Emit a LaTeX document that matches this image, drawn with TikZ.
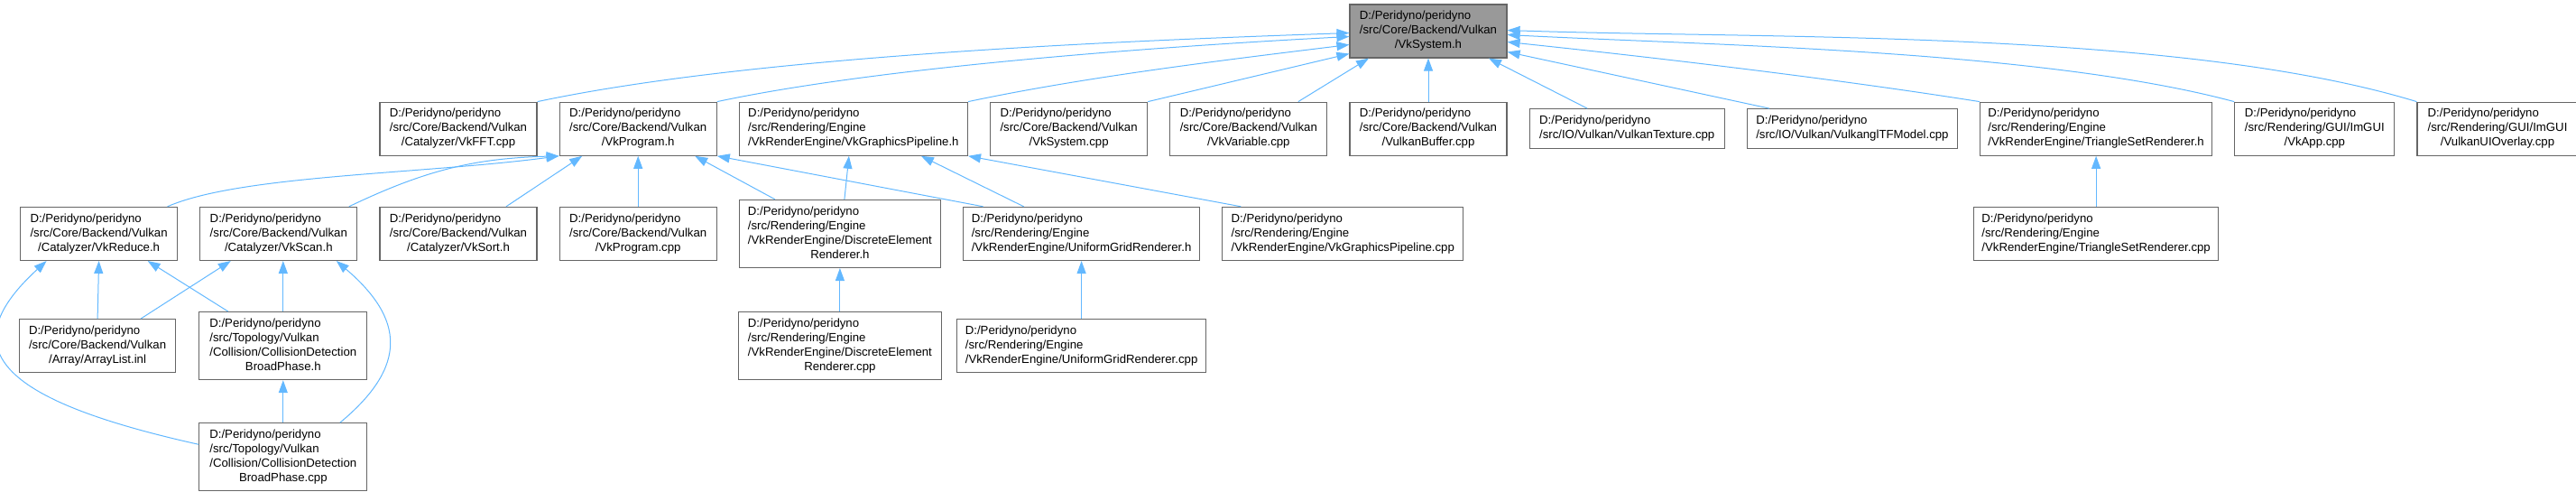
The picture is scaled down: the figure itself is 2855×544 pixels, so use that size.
\documentclass[tikz,border=0pt]{standalone}
\usepackage{fontspec}
\setmainfont{Liberation Sans}
\usepackage{xcolor}
\usepackage{tikz}
\usetikzlibrary{arrows.meta, positioning}
\definecolor{edgeblue}{HTML}{63B8FF}
\definecolor{boxgray}{HTML}{666666}
\definecolor{rootgray}{HTML}{999999}
\tikzstyle{filebox} = [rectangle, draw=boxgray, fill=white, line width=1.2pt, inner sep=0pt,
  minimum width=174pt, minimum height=59pt, font=\fontsize{13.2}{16}\selectfont]
\tikzstyle{rootbox} = [filebox, fill=rootgray]
\tikzstyle{arrow} = [draw=edgeblue, line width=1pt, -{Triangle[length=14pt, width=10pt]}]
\newcommand{\fpath}[2]{\begin{tabular}{@{}l@{}}#1\\\multicolumn{1}{@{}c@{}}{#2}\end{tabular}}

\begin{document}
\begin{tikzpicture}
  \useasboundingbox (0,0) rectangle (2855pt,-544pt);
  \node (sys) [rootbox] at (1583pt,-34.5pt)
    {\fpath{D:/Peridyno/peridyno\\/src/Core/Backend/Vulkan}{/VkSystem.h}};

  % Row 1 — direct includers, chained out from VulkanBuffer.cpp
  \node (buf)   [filebox, below=48pt of sys]
    {\fpath{D:/Peridyno/peridyno\\/src/Core/Backend/Vulkan}{/VulkanBuffer.cpp}};
  \node (var)   [filebox, left=24pt of buf]
    {\fpath{D:/Peridyno/peridyno\\/src/Core/Backend/Vulkan}{/VkVariable.cpp}};
  \node (syscpp)[filebox, left=24pt of var]
    {\fpath{D:/Peridyno/peridyno\\/src/Core/Backend/Vulkan}{/VkSystem.cpp}};
  \node (gpipe) [filebox, left=24pt of syscpp, minimum width=253pt]
    {\fpath{D:/Peridyno/peridyno\\/src/Rendering/Engine}{/VkRenderEngine/VkGraphicsPipeline.h}};
  \node (prog)  [filebox, left=24pt of gpipe]
    {\fpath{D:/Peridyno/peridyno\\/src/Core/Backend/Vulkan}{/VkProgram.h}};
  \node (fft)   [filebox, left=24pt of prog]
    {\fpath{D:/Peridyno/peridyno\\/src/Core/Backend/Vulkan}{/Catalyzer/VkFFT.cpp}};
  \node (tex)   [filebox, right=24pt of buf, minimum width=216pt, minimum height=44pt]
    {\fpath{D:/Peridyno/peridyno}{/src/IO/Vulkan/VulkanTexture.cpp}};
  \node (gltf)  [filebox, right=24pt of tex, minimum width=233pt, minimum height=44pt]
    {\fpath{D:/Peridyno/peridyno}{/src/IO/Vulkan/VulkanglTFModel.cpp}};
  \node (tsr)   [filebox, right=24pt of gltf, minimum width=257pt]
    {\fpath{D:/Peridyno/peridyno\\/src/Rendering/Engine}{/VkRenderEngine/TriangleSetRenderer.h}};
  \node (app)   [filebox, right=24pt of tsr, minimum width=177pt]
    {\fpath{D:/Peridyno/peridyno\\/src/Rendering/GUI/ImGUI}{/VkApp.cpp}};
  \node (ovl)   [filebox, right=24pt of app, minimum width=178pt]
    {\fpath{D:/Peridyno/peridyno\\/src/Rendering/GUI/ImGUI}{/VulkanUIOverlay.cpp}};

  % Row 2
  \node (sort)   [filebox, below=56pt of fft]
    {\fpath{D:/Peridyno/peridyno\\/src/Core/Backend/Vulkan}{/Catalyzer/VkSort.h}};
  \node (scan)   [filebox, left=24pt of sort]
    {\fpath{D:/Peridyno/peridyno\\/src/Core/Backend/Vulkan}{/Catalyzer/VkScan.h}};
  \node (reduce) [filebox, left=24pt of scan]
    {\fpath{D:/Peridyno/peridyno\\/src/Core/Backend/Vulkan}{/Catalyzer/VkReduce.h}};
  \node (progcpp)[filebox, below=56pt of prog]
    {\fpath{D:/Peridyno/peridyno\\/src/Core/Backend/Vulkan}{/VkProgram.cpp}};
  \node (derh)   [filebox, right=24pt of progcpp, minimum width=223pt, minimum height=75pt]
    {\fpath{D:/Peridyno/peridyno\\/src/Rendering/Engine\\/VkRenderEngine/DiscreteElement}{Renderer.h}};
  \node (ugrh)   [filebox, right=24pt of derh, minimum width=262pt]
    {\fpath{D:/Peridyno/peridyno\\/src/Rendering/Engine}{/VkRenderEngine/UniformGridRenderer.h}};
  \node (gpcpp)  [filebox, right=24pt of ugrh, minimum width=267pt]
    {\fpath{D:/Peridyno/peridyno\\/src/Rendering/Engine}{/VkRenderEngine/VkGraphicsPipeline.cpp}};
  \node (tsrcpp) [filebox, below=56pt of tsr, minimum width=271pt]
    {\fpath{D:/Peridyno/peridyno\\/src/Rendering/Engine}{/VkRenderEngine/TriangleSetRenderer.cpp}};

  % Row 3 and 4
  \node (bph)   [filebox, below=56pt of scan, xshift=5pt, minimum width=186pt, minimum height=75pt]
    {\fpath{D:/Peridyno/peridyno\\/src/Topology/Vulkan\\/Collision/CollisionDetection}{BroadPhase.h}};
  \node (alist) [filebox, left=25pt of bph, minimum width=173pt]
    {\fpath{D:/Peridyno/peridyno\\/src/Core/Backend/Vulkan}{/Array/ArrayList.inl}};
  \node (dercpp)[filebox, below=48pt of derh, minimum width=225pt, minimum height=75pt]
    {\fpath{D:/Peridyno/peridyno\\/src/Rendering/Engine\\/VkRenderEngine/DiscreteElement}{Renderer.cpp}};
  \node (ugrcpp)[filebox, below=64pt of ugrh, minimum width=276pt]
    {\fpath{D:/Peridyno/peridyno\\/src/Rendering/Engine}{/VkRenderEngine/UniformGridRenderer.cpp}};
  \node (bpcpp) [filebox, below=47pt of bph, minimum width=186pt, minimum height=75pt]
    {\fpath{D:/Peridyno/peridyno\\/src/Topology/Vulkan\\/Collision/CollisionDetection}{BroadPhase.cpp}};

  % Edges into VkSystem.h
  \draw[arrow] (fft.north east) to[out=12, in=182, looseness=0.7] ([yshift=-2pt]sys.west);
  \draw[arrow] (prog.north east) to[out=12, in=183, looseness=0.7] ([yshift=-6pt]sys.west);
  \draw[arrow] (gpipe.north east) to[out=12, in=187, looseness=0.8] ([yshift=-15pt]sys.west);
  \draw[arrow] (syscpp.north east) -- ([yshift=-25pt]sys.west);
  \draw[arrow] ([xshift=55pt]var.north) -- ([xshift=-66pt]sys.south);
  \draw[arrow] (buf.north) -- (sys.south);
  \draw[arrow] ([xshift=-44pt]tex.north) -- ([xshift=67pt]sys.south);
  \draw[arrow] ([xshift=-92pt]gltf.north) -- ([yshift=-23pt]sys.east);
  \draw[arrow] (tsr.north west) to[out=171, in=-6, looseness=0.8] ([yshift=-12pt]sys.east);
  \draw[arrow] (app.north west) to[out=165, in=-3, looseness=0.7] ([yshift=-4pt]sys.east);
  \draw[arrow] (ovl.north west) to[out=163, in=-2, looseness=0.7] ([yshift=1pt]sys.east);

  % Edges into VkProgram.h and VkGraphicsPipeline.h
  \draw[arrow] ([xshift=76pt]reduce.north) .. controls +(80pt,35pt) and +(-150pt,-20pt) .. (prog.south west);
  \draw[arrow] ([xshift=78pt]scan.north) to[bend left=12] (prog.south west);
  \draw[arrow] ([xshift=53pt]sort.north) -- ([xshift=-62pt]prog.south);
  \draw[arrow] (progcpp) -- (prog);
  \draw[arrow] ([xshift=-72pt]derh.north) -- ([xshift=63pt]prog.south);
  \draw[arrow] ([xshift=-109pt]ugrh.north) -- (prog.south east);
  \draw[arrow] ([xshift=5pt]derh.north) -- ([xshift=-5pt]gpipe.south);
  \draw[arrow] ([xshift=-64pt]ugrh.north) -- ([xshift=75pt]gpipe.south);
  \draw[arrow] ([xshift=-113pt]gpcpp.north) -- (gpipe.south east);

  % Lower edges
  \draw[arrow] (alist.north) -- (reduce.south);
  \draw[arrow] ([xshift=-61pt]bph.north) -- ([xshift=54pt]reduce.south);
  \draw[arrow] ([yshift=14pt]bpcpp.west) .. controls +(-225pt,50pt) and +(-105pt,-96pt) .. ([xshift=-58pt]reduce.south);
  \draw[arrow] ([xshift=48pt]alist.north) -- ([xshift=-53pt]scan.south);
  \draw[arrow] (bph.north) -- (bph.north |- scan.south);
  \draw[arrow] ([xshift=63pt]bpcpp.north) .. controls +(76pt,63pt) and +(75pt,-64pt) .. ([xshift=64pt]scan.south);
  \draw[arrow] (bpcpp) -- (bph);
  \draw[arrow] (dercpp.north) -- (dercpp.north |- derh.south);
  \draw[arrow] (ugrcpp.north) -- (ugrcpp.north |- ugrh.south);
  \draw[arrow] (tsrcpp) -- (tsr);
\end{tikzpicture}
\end{document}
